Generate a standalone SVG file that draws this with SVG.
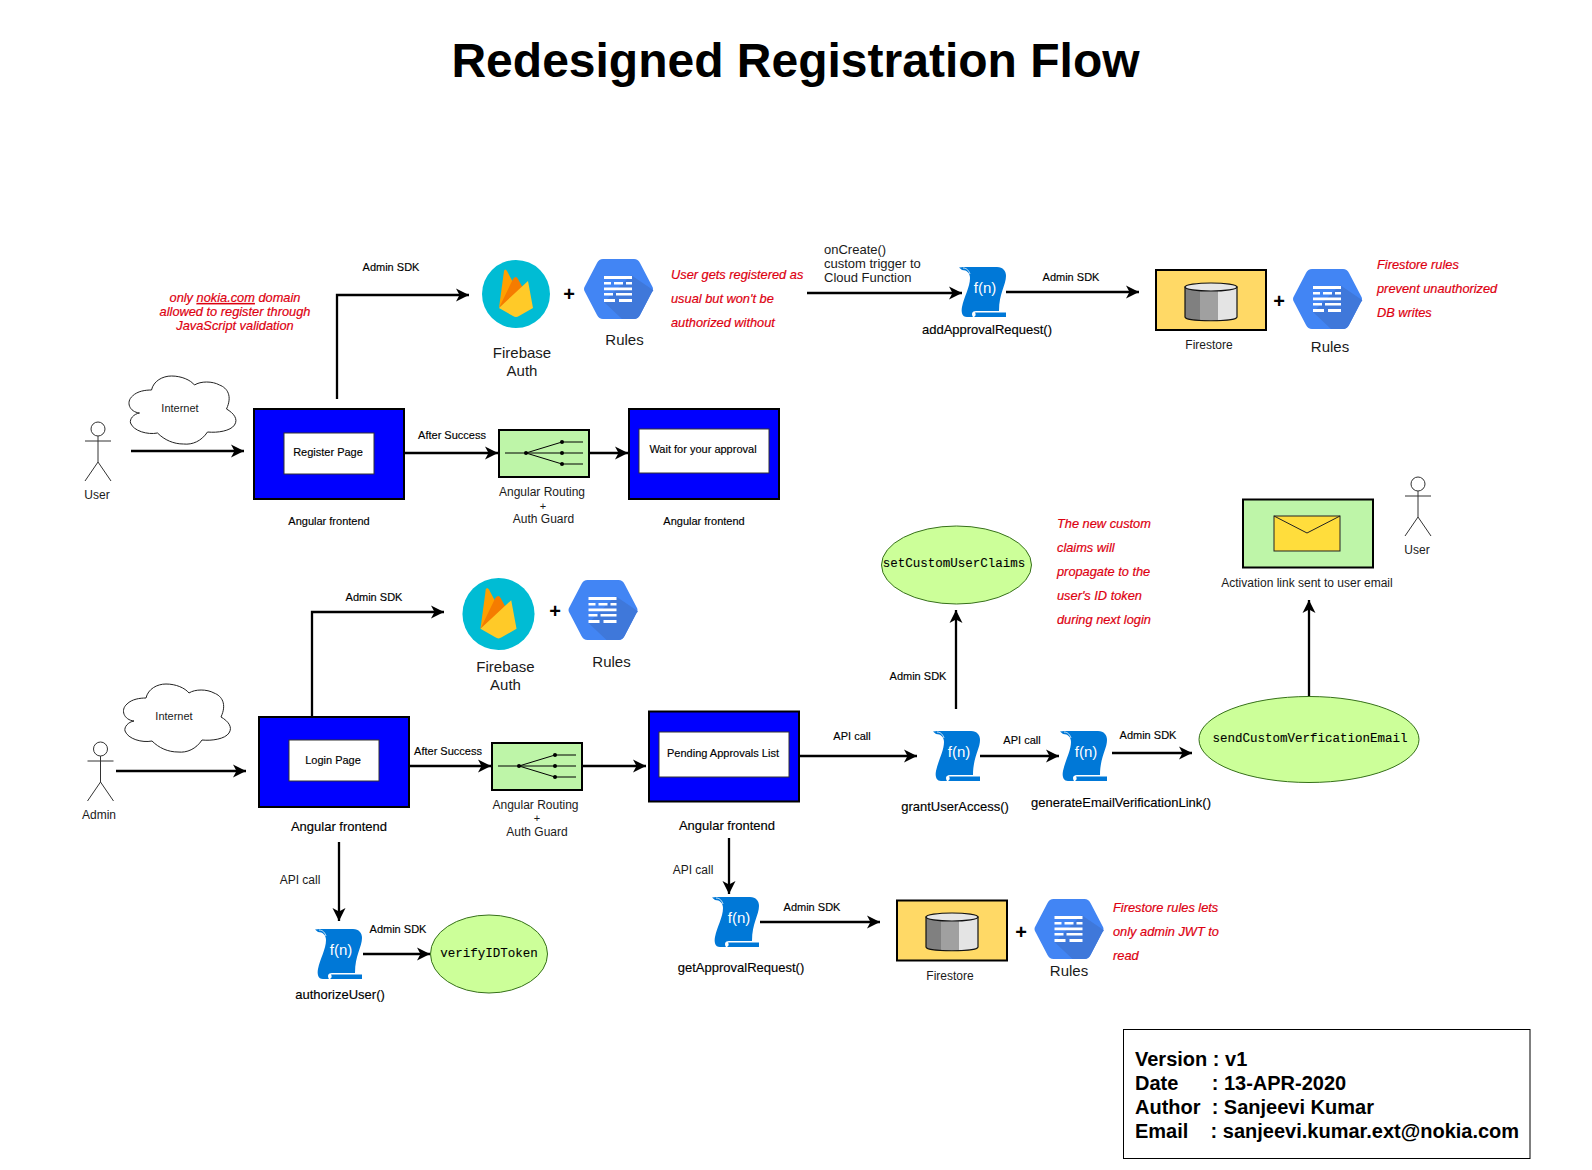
<svg xmlns="http://www.w3.org/2000/svg" width="1592" height="1170" viewBox="0 0 1592 1170">
<style>
text{font-family:"Liberation Sans",Arial,sans-serif;fill:#1a1a1a;text-anchor:middle}
.t{font-size:12px}
.m{font-size:13px;text-anchor:start}
.s{font-size:11px;fill:#000;stroke:#000;stroke-width:.15px}
.b{font-size:13px;fill:#000;stroke:#000;stroke-width:.15px}
.i{font-size:11px}
.l{font-size:15px}
.p{font-size:20px;font-weight:700;fill:#000}
.r{font-size:12.800px;font-style:italic;fill:#dd0010;stroke:#dd0010;stroke-width:.2px;text-anchor:start}
.c{font-size:12.500px;font-family:"Liberation Mono","Courier New",monospace;fill:#000;stroke:#000;stroke-width:.1px}
.f{font-size:15px;fill:#fff}
.v{font-size:20px;font-weight:700;fill:#000;text-anchor:start;white-space:pre}
.blue{fill:#0000ff;stroke:#000;stroke-width:2}
.white{fill:#fff;stroke:#333;stroke-width:1}
.grn{fill:#bef5a8;stroke:#000;stroke-width:2}
.yel{fill:#ffd966;stroke:#000;stroke-width:2}
.ell{fill:#ccff99;stroke:#36701a;stroke-width:1}
.act{fill:none;stroke:#333;stroke-width:1}
.cl{fill:#fff;stroke:#222;stroke-width:1}
.conn path{fill:none;stroke:#000;stroke-width:2.300;marker-end:url(#a)}
</style>
<defs>
<marker id="a" markerUnits="userSpaceOnUse" markerWidth="15" markerHeight="15" refX="14" refY="7.500" orient="auto"><path d="M1 1 L14 7.500 L1 14 L4.500 7.500Z" fill="#000"/></marker>
<linearGradient id="cy" x1="0" x2="1" y1="0" y2="0"><stop offset="0" stop-color="#808080"/><stop offset=".28" stop-color="#808080"/><stop offset=".28" stop-color="#a0a0a0"/><stop offset=".63" stop-color="#a0a0a0"/><stop offset=".63" stop-color="#e4e4e4"/><stop offset="1" stop-color="#e4e4e4"/></linearGradient>
<g id="fn">
<path fill="#0078d7" d="M0 .5 C3 0 6 0 8 0 H38 C44 0 47 4 47 9 C47 18 40 26 40 44 H17 C13 44 12 47 14 50 H8 C3 50 2 45 3 40 C5 30 11 20 11 11 C11 6 8 3 3 3Z"/>
<path fill="#0078d7" d="M16 45.500 H47 V50 H15 C17 49 17 47 16 45.500Z"/>
<path fill="none" stroke="#fff" stroke-width=".8" d="M4 1 C8 1 10 4 11 7"/>
</g>
<g id="hex">
<path fill="#4285f4" d="M2 27 L14 4 Q16 0 20 0 H51 Q55 0 57 4 L69 27 Q71 30 69 33 L57 56 Q55 60 51 60 H20 Q16 60 14 56 L2 33 Q0 30 2 27Z"/>
<path fill="#3f78da" d="M48 16 L70 31 Q71 31 69 33 L57 56 Q55 60 51 60 H39 L21 43Z"/>
<path fill="#fff" d="M21 17h28v3h-28zM21 23h7v2.600h-7zM31 23h9v2.600h-9zM43 23h6v2.600h-6zM21 28.500h28v2.800h-28zM21 34h9v2.600h-9zM33 34h16v2.600h-16zM21 40h11v3h-11zM36 40h13v3h-13z"/>
</g>
<g id="fb">
<circle r="34" fill="#00bcd4"/>
<path fill="#ffa000" d="M-17 14 L-12 -23 Q-11 -26 -9 -23 L-1 -8Z"/>
<path fill="#f57c00" d="M-17 14 L-3 -15 Q0 -19 2 -15 L8 -4Z"/>
<path fill="#ffca28" d="M-17 14 L12 -13 L17 14 L3 22 Q0 24 -3 22Z"/>
</g>
<g id="cyl">
<path fill="url(#cy)" stroke="#111" stroke-width="1.200" d="M0 4 V34 C0 39 52 39 52 34 V4Z"/>
<ellipse cx="26" cy="4" rx="26" ry="4" fill="#e6e6e6" stroke="#111" stroke-width="1.200"/>
</g>
<path id="cloud" class="cl" d="M12 37 C2 36 -2 26 5 20 C10 15 18 14 24 14 C26 5 35 0 44 0 C54 0 63 4 67 9 C73 5 85 5 92 9 C100 12 105 20 99 33 C106 37 111 43 107 49 C103 55 90 57 80 56 C74 65 65 69 56 68 C46 68 37 64 30 57 C20 59 6 55 3 47 C2 43 6 38 12 37Z"/>
<g id="actor" class="act"><circle cx="0" cy="0" r="7"/><path d="M0 7 V33 M-13 12 H13 M0 33 L-13 52 M0 33 L13 52"/></g>
<g id="route" fill="#000"><path d="M6 23 H84 M27 23 L63 12 H84 M27 23 L63 34 H84" fill="none" stroke="#000" stroke-width="1"/><circle cx="27" cy="23" r="2"/><circle cx="63" cy="12" r="2"/><circle cx="63" cy="23" r="2"/><circle cx="63" cy="34" r="2"/></g>
</defs>

<text id="title" x="795.500" y="77" font-size="48" font-weight="700" style="fill:#000">Redesigned Registration Flow</text>

<g id="connectors" class="conn">
<path d="M131 451H244"/>
<path d="M337 399V295H469"/>
<path d="M404 453H498"/>
<path d="M589 453H628"/>
<path d="M807 293H962"/>
<path d="M1006 292H1139"/>
<path d="M116 771H246"/>
<path d="M312 716V612H444"/>
<path d="M409 766H491"/>
<path d="M583 766H646"/>
<path d="M800 756H917"/>
<path d="M980 756H1059"/>
<path d="M1112 753H1192"/>
<path d="M956 709V610"/>
<path d="M1309 697V600"/>
<path d="M729 838V894"/>
<path d="M760 922H880"/>
<path d="M339 842V921"/>
<path d="M363 954H430"/>
</g>

<g id="edge-labels">
<text class="s" x="391" y="271">Admin SDK</text>
<text class="s" x="452" y="439">After Success</text>
<text class="s" x="1071" y="281">Admin SDK</text>
<text class="s" x="374" y="601">Admin SDK</text>
<text class="s" x="448" y="755">After Success</text>
<text class="s" x="852" y="740">API call</text>
<text class="s" x="1022" y="744">API call</text>
<text class="s" x="1148" y="739">Admin SDK</text>
<text class="s" x="918" y="680">Admin SDK</text>
<text class="s" x="812" y="911">Admin SDK</text>
<text class="s" x="398" y="933">Admin SDK</text>
<text class="t" x="693" y="874">API call</text>
<text class="t" x="300" y="884">API call</text>
<text class="m" x="824" y="254">onCreate()</text>
<text class="m" x="824" y="268">custom trigger to</text>
<text class="m" x="824" y="282">Cloud Function</text>
</g>

<g id="user-actor"><use href="#actor" x="98" y="429"/><text class="t" x="97" y="499">User</text></g>
<g id="internet-1"><use href="#cloud" x="127.500" y="376"/><text class="i" x="180" y="412">Internet</text></g>
<g id="register-page"><rect class="blue" x="254" y="409" width="150" height="90"/><rect class="white" x="284" y="433" width="90" height="41"/><text class="s" x="328" y="456">Register Page</text><text class="s" x="329" y="525">Angular frontend</text></g>
<g id="note-domain"><text class="r" style="text-anchor:middle" x="235" y="302">only <tspan text-decoration="underline">nokia.com</tspan> domain</text><text class="r" style="text-anchor:middle" x="235" y="316">allowed to register through</text><text class="r" style="text-anchor:middle" x="235" y="330">JavaScript validation</text></g>
<g id="firebase-1"><use href="#fb" x="516" y="294"/><text class="l" x="522" y="358">Firebase</text><text class="l" x="522" y="376">Auth</text></g>
<g id="plus-1"><text class="p" x="569" y="301">+</text></g>
<g id="rules-1"><use href="#hex" x="583" y="259"/><text class="l" x="624.500" y="345">Rules</text></g>
<g id="note-registered"><text class="r" x="671" y="279">User gets registered as</text><text class="r" x="671" y="303">usual but won't be</text><text class="r" x="671" y="327">authorized without</text></g>
<g id="router-1"><rect class="grn" x="499" y="430" width="90" height="47"/><use href="#route" x="499" y="430"/><text class="t" x="542" y="496">Angular Routing</text><text class="t" x="543" y="510" style="font-size:11px">+</text><text class="t" x="543.500" y="523">Auth Guard</text></g>
<g id="wait-approval"><rect class="blue" x="629" y="409" width="150" height="90"/><rect class="white" x="639" y="429" width="130" height="44"/><text class="s" x="703" y="453">Wait for your approval</text><text class="s" x="704" y="525">Angular frontend</text></g>
<g id="fn-add"><use href="#fn" x="959" y="267"/><text class="f" x="985" y="293">f(n)</text><text class="b" x="987" y="334">addApprovalRequest()</text></g>
<g id="firestore-1"><rect class="yel" x="1156" y="270" width="110" height="60"/><use href="#cyl" x="1185" y="283"/><text class="t" x="1209" y="349">Firestore</text></g>
<g id="plus-2"><text class="p" x="1279" y="308">+</text></g>
<g id="rules-2"><use href="#hex" x="1292" y="269"/><text class="l" x="1330" y="352">Rules</text></g>
<g id="note-firestore"><text class="r" x="1377" y="269">Firestore rules</text><text class="r" x="1377" y="293">prevent unauthorized</text><text class="r" x="1377" y="317">DB writes</text></g>

<g id="set-claims"><ellipse class="ell" cx="956.500" cy="565" rx="75" ry="39"/><text class="c" x="954" y="567">setCustomUserClaims</text></g>
<g id="note-claims"><text class="r" x="1057" y="528">The new custom</text><text class="r" x="1057" y="552">claims will</text><text class="r" x="1057" y="576">propagate to the</text><text class="r" x="1057" y="600">user's ID token</text><text class="r" x="1057" y="624">during next login</text></g>
<g id="email"><rect class="grn" x="1243" y="499.500" width="130" height="68"/><rect x="1274" y="516" width="66" height="35" fill="#ffdd3c" stroke="#222" stroke-width="1"/><path d="M1274 516 L1307 533 L1340 516" fill="none" stroke="#222" stroke-width="1"/><text class="t" x="1307" y="587">Activation link sent to user email</text></g>
<g id="user-actor-2"><use href="#actor" x="1418" y="484"/><text class="t" x="1417" y="554">User</text></g>
<g id="send-email"><ellipse class="ell" cx="1309" cy="739.500" rx="110" ry="43"/><text class="c" x="1310" y="742">sendCustomVerficationEmail</text></g>
<g id="fn-grant"><use href="#fn" x="933" y="731"/><text class="f" x="959" y="757">f(n)</text><text class="b" x="955" y="811">grantUserAccess()</text></g>
<g id="fn-generate"><use href="#fn" x="1060" y="731"/><text class="f" x="1086" y="757">f(n)</text><text class="b" x="1121" y="807">generateEmailVerificationLink()</text></g>

<g id="admin-actor"><use href="#actor" x="100.500" y="749"/><text class="t" x="99" y="819">Admin</text></g>
<g id="internet-2"><use href="#cloud" x="122" y="684"/><text class="i" x="174" y="720">Internet</text></g>
<g id="login-page"><rect class="blue" x="259" y="717" width="150" height="90"/><rect class="white" x="289" y="740" width="90" height="41"/><text class="s" x="333" y="764">Login Page</text><text class="b" x="339" y="831">Angular frontend</text></g>
<g id="firebase-2"><use href="#fb" transform="translate(498.500 614) scale(1.060)"/><text class="l" x="505.500" y="672">Firebase</text><text class="l" x="505.500" y="690">Auth</text></g>
<g id="plus-3"><text class="p" x="555" y="618">+</text></g>
<g id="rules-3"><use href="#hex" x="567.500" y="580"/><text class="l" x="611.500" y="667">Rules</text></g>
<g id="router-2"><rect class="grn" x="492" y="743" width="90" height="47"/><use href="#route" x="492" y="743"/><text class="t" x="535.500" y="809">Angular Routing</text><text class="t" x="537" y="822" style="font-size:11px">+</text><text class="t" x="537" y="836">Auth Guard</text></g>
<g id="pending"><rect class="blue" x="649" y="711.500" width="150" height="90"/><rect class="white" x="659" y="732" width="130" height="45"/><text class="s" x="723" y="756.500">Pending Approvals List</text><text class="b" x="727" y="830">Angular frontend</text></g>
<g id="fn-get"><use href="#fn" x="712" y="897"/><text class="f" x="739" y="923">f(n)</text><text class="b" x="741" y="972">getApprovalRequest()</text></g>
<g id="firestore-2"><rect class="yel" x="897" y="900.500" width="110" height="60"/><use href="#cyl" x="926" y="913"/><text class="t" x="950" y="980">Firestore</text></g>
<g id="plus-4"><text class="p" x="1021" y="939">+</text></g>
<g id="rules-4"><use href="#hex" x="1033.500" y="899"/><text class="l" x="1069" y="976">Rules</text></g>
<g id="note-jwt"><text class="r" x="1113" y="912">Firestore rules lets</text><text class="r" x="1113" y="936">only admin JWT to</text><text class="r" x="1113" y="960">read</text></g>
<g id="fn-authorize"><use href="#fn" x="315" y="929"/><text class="f" x="341" y="955">f(n)</text><text class="b" x="340" y="999">authorizeUser()</text></g>
<g id="verify"><ellipse class="ell" cx="489" cy="954" rx="58.500" ry="39"/><text class="c" x="489" y="957">verifyIDToken</text></g>

<g id="version-box"><rect x="1123.500" y="1029.500" width="406.500" height="129" fill="#fff" stroke="#000" stroke-width="1"/>
<text class="v" x="1135" y="1065.500">Version : v1</text>
<text class="v" x="1135" y="1090">Date      : 13-APR-2020</text>
<text class="v" x="1135" y="1114">Author  : Sanjeevi Kumar</text>
<text class="v" x="1135" y="1138">Email    : sanjeevi.kumar.ext@nokia.com</text></g>
</svg>
